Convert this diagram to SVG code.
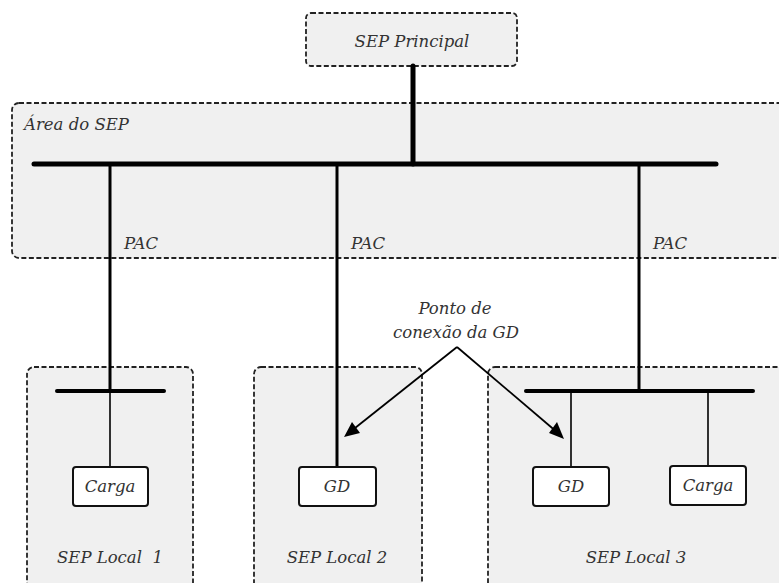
<svg xmlns="http://www.w3.org/2000/svg" width="779" height="583" viewBox="0 0 779 583">
<style>
.area{fill:#f0f0f0;stroke:#222;stroke-width:1.8;stroke-dasharray:5 2.5}
.box{fill:#fff;stroke:#111;stroke-width:2}
.bus{stroke:#000;stroke-width:5;stroke-linecap:round;fill:none}
.feed{stroke:#000;stroke-width:3;fill:none}
.thin{stroke:#000;stroke-width:1.6;fill:none}
.arr{stroke:#000;stroke-width:1.8;fill:none}
text{font-family:"DejaVu Serif","Liberation Serif",serif;font-style:italic;font-size:16.5px;fill:#333;text-anchor:middle}
</style>
<g id="area-sep">
<rect class="area" x="12" y="103" width="780" height="155" rx="7"/>
<text x="24" y="130" style="text-anchor:start">Área do SEP</text>
</g>
<g id="local1">
<rect class="area" x="27" y="367" width="166" height="230" rx="7"/>
<text x="110" y="563" xml:space="preserve">SEP Local  1</text>
</g>
<g id="local2">
<rect class="area" x="254" y="367" width="168" height="230" rx="7"/>
<text x="337" y="563">SEP Local 2</text>
</g>
<g id="local3">
<rect class="area" x="488" y="367" width="310" height="230" rx="7"/>
<text x="636" y="563">SEP Local 3</text>
</g>
<g id="sep-principal">
<rect class="area" x="306" y="13" width="211" height="53" rx="5"/>
<text x="412" y="47">SEP Principal</text>
</g>
<g id="connectors">
<line class="bus" x1="413" y1="66" x2="413" y2="164"/>
<line class="bus" x1="34" y1="164" x2="716" y2="164"/>
<line class="feed" x1="110" y1="164" x2="110" y2="391"/>
<line class="feed" x1="337" y1="164" x2="337" y2="467"/>
<line class="feed" x1="639" y1="164" x2="639" y2="391"/>
<line class="bus" style="stroke-width:4" x1="57" y1="391" x2="164" y2="391"/>
<line class="thin" x1="110" y1="391" x2="110" y2="467"/>
<line class="bus" style="stroke-width:4" x1="526" y1="391" x2="753" y2="391"/>
<line class="thin" x1="571" y1="391" x2="571" y2="467"/>
<line class="thin" x1="708" y1="391" x2="708" y2="466"/>
<line class="arr" x1="457" y1="347" x2="350" y2="432"/>
<line class="arr" x1="457" y1="347" x2="558" y2="433"/>
<polygon points="344,437 352,422 360,433" fill="#000"/>
<polygon points="564,439 549,433 557,422" fill="#000"/>
</g>
<g id="pac-labels">
<text x="141" y="249">PAC</text>
<text x="368" y="249">PAC</text>
<text x="670" y="249">PAC</text>
</g>
<g id="ponto-label">
<text x="455" y="314">Ponto de</text>
<text x="456" y="338">conexão da GD</text>
</g>
<g id="carga1">
<rect class="box" x="73" y="467" width="75" height="39" rx="3"/>
<text x="110" y="492">Carga</text>
</g>
<g id="gd2">
<rect class="box" x="299" y="467" width="77" height="39" rx="3"/>
<text x="337" y="492">GD</text>
</g>
<g id="gd3">
<rect class="box" x="533" y="467" width="76" height="39" rx="3"/>
<text x="571" y="492">GD</text>
</g>
<g id="carga3">
<rect class="box" x="670" y="466" width="76" height="39" rx="3"/>
<text x="708" y="491">Carga</text>
</g>
</svg>
